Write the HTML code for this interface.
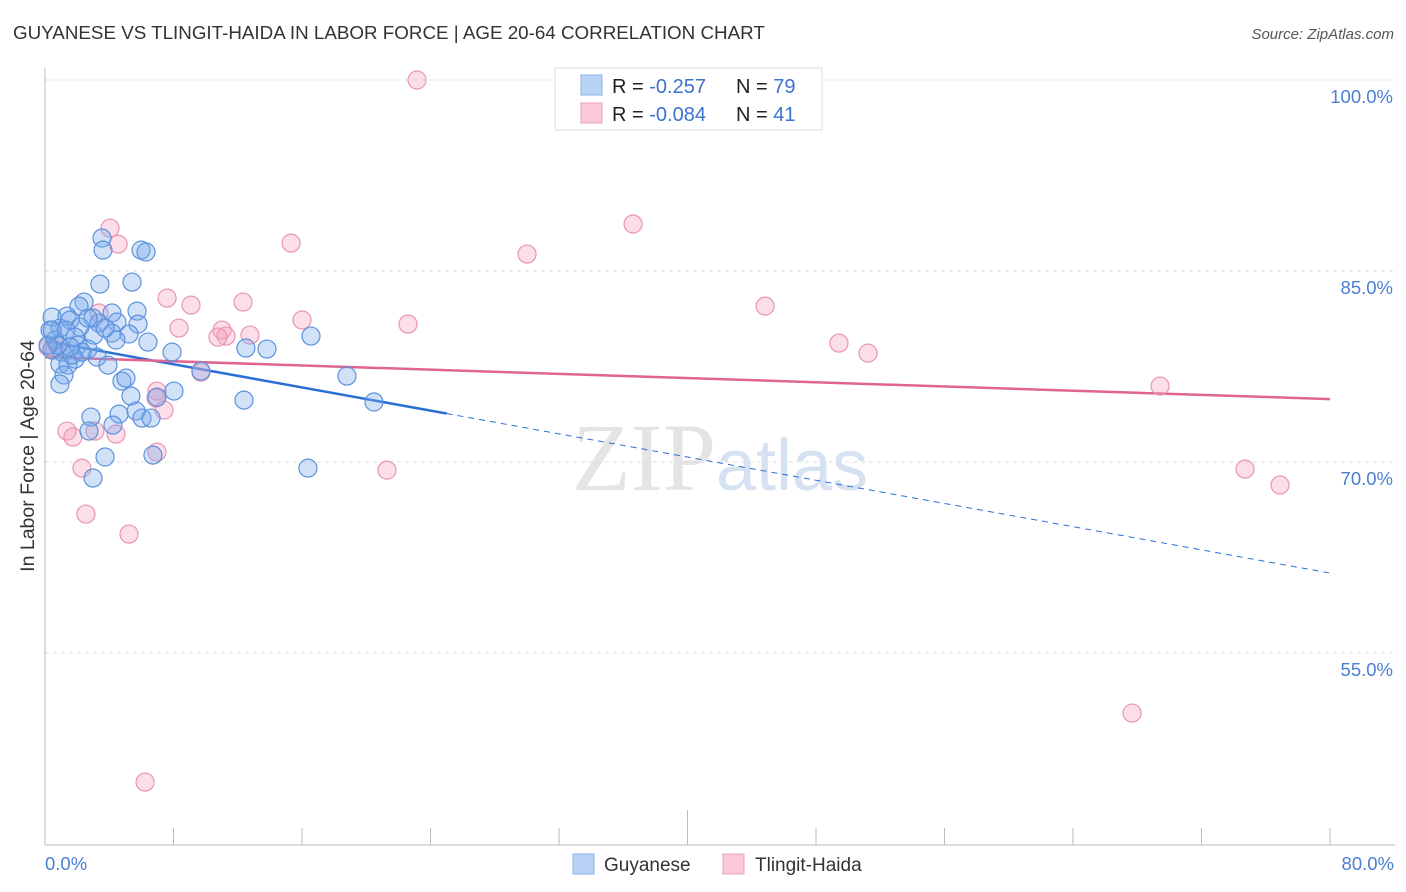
<!DOCTYPE html>
<html><head><meta charset="utf-8"><style>
body{margin:0;background:#fff;font-family:"Liberation Sans",sans-serif}
svg{display:block}
</style></head><body>
<svg id="chart" width="1406" height="892" viewBox="0 0 1406 892" xmlns="http://www.w3.org/2000/svg">
<text x="13" y="39" font-size="18.8" fill="#333" font-family="Liberation Sans, sans-serif">GUYANESE VS TLINGIT-HAIDA IN LABOR FORCE | AGE 20-64 CORRELATION CHART</text>
<text x="1394" y="39" font-size="15" fill="#555" font-style="italic" text-anchor="end">Source: ZipAtlas.com</text>
<text x="720" y="490" font-size="96" text-anchor="middle" font-family="Liberation Serif, serif" fill="#e4e4e4">ZIP<tspan fill="#d6e2f2" font-family="Liberation Sans, sans-serif" font-size="72">atlas</tspan></text>
<g id="grid"></g>
<line x1="45" y1="68" x2="45" y2="845" stroke="#bbb"/>
<line x1="45" y1="845" x2="1395" y2="845" stroke="#bbb"/>
<g id="ticks"></g>
<text transform="translate(34,456) rotate(-90)" text-anchor="middle" font-size="19.5" fill="#333">In Labor Force | Age 20-64</text>
<text x="45" y="870" font-size="18.5" fill="#4a7fd4">0.0%</text>
<text x="1394" y="870" font-size="18.5" fill="#4a7fd4" text-anchor="end">80.0%</text>
<g id="lines"></g>
<g id="points"></g>
<g>
<rect x="555" y="68" width="267" height="62" fill="#fff" stroke="#ddd"/>
<rect x="581" y="75" width="21" height="20" fill="#b8d3f5" stroke="#8ab0e6"/>
<rect x="581" y="103" width="21" height="20" fill="#fbc8d8" stroke="#eda0b8"/>
<text x="612" y="93" font-size="20" fill="#222">R = <tspan fill="#3a72d0"> -0.257</tspan></text>
<text x="736" y="93" font-size="20" fill="#222">N = <tspan fill="#3a72d0">79</tspan></text>
<text x="612" y="121" font-size="20" fill="#222">R = <tspan fill="#3a72d0">-0.084</tspan></text>
<text x="736" y="121" font-size="20" fill="#222">N = <tspan fill="#3a72d0"> 41</tspan></text>
</g>
<g>
<rect x="573" y="854" width="21" height="20" fill="#b8d3f5" stroke="#8ab0e6"/>
<text x="604" y="871" font-size="19" fill="#333">Guyanese</text>
<rect x="723" y="854" width="21" height="20" fill="#fbc8d8" stroke="#eda0b8"/>
<text x="755" y="871" font-size="19" fill="#333">Tlingit-Haida</text>
</g>
</svg>
<script>
const yTicks=[100,85,70,55];
const yTickLabels=["100.0%","85.0%","70.0%","55.0%"];
const xTicks=[0,8,16,24,32,40,48,56,64,72,80];
const blueX=[3.55,3.61,5.98,6.29,3.42,5.42,2.43,2.12,4.17,5.73,1.37,1.56,2.99,0.44,3.36,4.48,5.79,2.18,0.93,0.31,1.31,4.17,5.23,4.42,6.41,0.62,3.05,1.87,2.05,2.68,1.06,0.44,12.51,13.82,7.91,16.56,3.24,1.87,0.93,1.43,3.92,1.68,1.18,9.71,18.80,4.79,5.04,0.93,5.35,6.97,8.03,12.39,20.48,5.67,4.61,6.04,6.60,4.23,2.86,2.74,3.74,6.72,16.37,2.99,2.68,3.74,0.81,2.30,0.19,0.44,1.56];
const blueY=[87.59,86.64,86.64,86.49,83.97,84.13,82.56,82.24,81.70,81.85,81.46,81.15,81.30,81.38,80.91,80.99,80.83,80.60,80.52,80.36,80.36,80.12,80.05,79.58,79.42,79.58,79.97,79.81,79.18,78.87,78.63,78.79,78.95,78.87,78.63,79.89,78.24,78.08,77.69,77.61,77.61,78.40,76.83,77.14,76.75,76.35,76.59,76.12,75.18,75.10,75.57,74.86,74.71,74.00,73.76,73.45,73.45,72.90,73.53,72.43,70.39,70.54,69.52,68.74,81.30,80.52,79.18,78.63,79.18,80.36,79.03];
const pinkX=[23.16,4.05,4.55,15.32,30.01,36.61,7.60,9.09,12.33,44.83,3.36,16.00,8.34,22.60,11.02,11.27,10.77,12.76,49.43,51.24,0.62,0.19,9.71,6.97,6.91,7.41,69.42,1.37,1.74,3.11,4.42,6.97,2.30,21.29,74.71,76.89,2.55,5.23,67.68,6.23,0.81];
const pinkY=[100.00,88.37,87.11,87.19,86.33,88.69,82.87,82.32,82.56,82.24,81.70,81.15,80.52,80.83,80.36,79.89,79.81,79.97,79.34,78.55,78.79,79.03,77.06,75.57,75.02,74.08,75.96,72.43,71.96,72.43,72.19,70.78,69.52,69.36,69.44,68.19,65.91,64.34,50.28,44.86,79.18];
const blueFit=[79.50,-0.2278], blueSolidEnd=25;
const pinkFit=[78.24,-0.04125];
const NS="http://www.w3.org/2000/svg";
const X=v=>45+v/80*1285, Y=v=>80+(100-v)*12.733;
function mk(t,a,p){const e=document.createElementNS(NS,t);for(const k in a)e.setAttribute(k,a[k]);p.appendChild(e);return e;}
const grid=document.getElementById('grid');
yTicks.forEach((t,i)=>{
 const l=mk('line',{x1:45,x2:1395,y1:Y(t),y2:Y(t),stroke:'#ddd','stroke-dasharray':'4,4'},grid);
 
 
 const tx=mk('text',{x:1393,y:Y(t)+23,'font-size':18.5,fill:'#4a7fd4','text-anchor':'end'},grid);
 tx.textContent=yTickLabels[i];
 
 
});
const tk=document.getElementById('ticks');
xTicks.forEach((t,i)=>{
 const l=mk('line',{x1:X(t),x2:X(t),y1:i==5?810:828,y2:845,stroke:'#bbb'},tk);
 
 
});
const ln=document.getElementById('lines');
const f=(fit,x)=>fit[0]+fit[1]*x;
let a=mk('line',{x1:X(0),y1:Y(f(blueFit,0)),x2:X(blueSolidEnd),y2:Y(f(blueFit,blueSolidEnd)),stroke:'#2a6fd6','stroke-width':2.5},ln);


a=mk('line',{x1:X(blueSolidEnd),y1:Y(f(blueFit,blueSolidEnd)),x2:X(80),y2:Y(f(blueFit,80)),stroke:'#2a6fd6','stroke-width':1,'stroke-dasharray':'6,5'},ln);


a=mk('line',{x1:X(0),y1:Y(f(pinkFit,0)),x2:X(80),y2:Y(f(pinkFit,80)),stroke:'#e0648e','stroke-width':2.5},ln);


const pts=document.getElementById('points');
pinkX.forEach((x,i)=>{
 const c=mk('circle',{cx:X(x),cy:Y(pinkY[i]),r:9,fill:'rgba(244,160,190,0.35)',stroke:'#ea94b2','stroke-width':1.2},pts);
 
 
});
blueX.forEach((x,i)=>{
 const c=mk('circle',{cx:X(x),cy:Y(blueY[i]),r:9,fill:'rgba(120,170,235,0.35)',stroke:'#5b92dd','stroke-width':1.2},pts);
 
 
});
</script>
</body></html>
